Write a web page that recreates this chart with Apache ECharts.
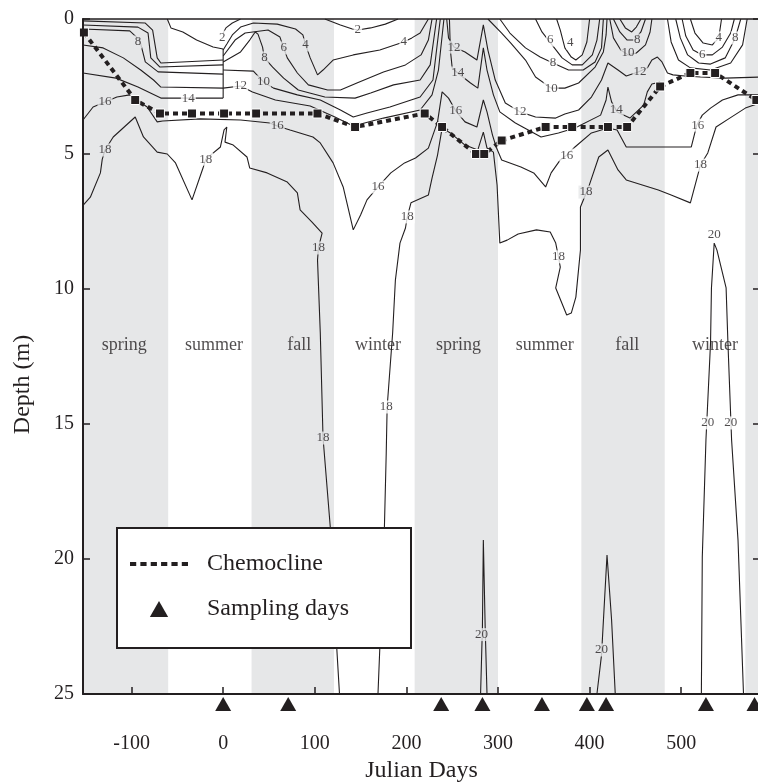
<!DOCTYPE html>
<html>
<head>
<meta charset="utf-8">
<title>Chemocline and contours</title>
<script src="https://cdn.jsdelivr.net/npm/echarts@6/dist/echarts.min.js"></script>
<style>
  html, body { margin: 0; padding: 0; background: #fff; }
  #chart { width: 758px; height: 783px; }
</style>
</head>
<body>
<div id="chart"></div>
<script>
// seasons (shaded = spring / fall)
var bandStart = [-153, 31, 209, 391, 570];
var bandEnd   = [-60, 121, 300, 482, 586];
var seasonNames = ['spring', 'summer', 'fall', 'winter', 'spring', 'summer', 'fall', 'winter'];
var seasonDays  = [-108, -10, 83, 169, 257, 351, 441, 537];
var seasonDepth = 12.1;

// chemocline
var chemoDays   = [-152, -96, -69, -34, 1, 36, 103, 144, 220, 239, 276, 285, 304, 352, 381, 420, 441, 477, 510, 537, 582];
var chemoDepths = [0.5, 3, 3.5, 3.5, 3.5, 3.5, 3.5, 4, 3.5, 4, 5, 5, 4.5, 4, 4, 4, 4, 2.5, 2, 2, 3];

// sampling days
var samplingDays = [0, 71, 238, 283, 348, 397, 418, 527, 580];

// axis ticks
var xTicks = [-100, 0, 100, 200, 300, 400, 500];

// contour lines [day, depth]
var tl1 = [[-153,0.07],[-85,0.15],[-77,0.41],[-72,1.44],[-68,1.63],[0,1.52]];
var tl2 = [[-153,0.22],[-93,0.3],[-82,0.52],[-79,1.44],[-69,1.78],[0,1.7]];
var tl3 = [[-153,0.37],[-102,0.44],[-91,0.78],[-85,1.59],[-71,1.96],[0,2.04]];
var tl4 = [[-153,0.96],[-131,1.07],[-109,1.44],[-90,1.89],[-76,2.26],[-68,2.52],[0,2.56]];
var tl5 = [[-153,2.0],[-117,2.19],[-93,2.52],[-68,2.93],[0,2.93]];
var c2left = [[-61,0],[-57,0.33],[-44,0.48],[-29,0.78],[-11,1.04],[0,1.11]];
var day0 = [[0,1.11],[0,2.93]];
var c2up = [[0,0.52],[3,0.33],[10,0.15],[19,0]];
var c2mid = [[111,0],[128,0.22],[141,0.37],[147,0.41],[161,0.33],[177,0.19],[191,0]];
var m4 = [[0,1.15],[10,0.59],[19,0.3],[33,0.15],[59,0.19],[79,0.37],[87,0.59],[90,0.96],[95,1.44],[103,2.07],[109,1.89],[120,1.52],[142,1.33],[171,1.15],[197,0.85],[206,0.7],[215,0.52],[224,0]];
var m6 = [[0,1.37],[13,0.78],[24,0.52],[49,0.41],[62,0.67],[66,1.07],[70,1.44],[81,2.0],[93,2.44],[114,2.63],[128,2.63],[146,2.37],[175,1.96],[199,1.7],[216,1.33],[224,0.78],[228,0]];
var m8 = [[0,1.59],[19,1.22],[29,0.78],[35,0.48],[38,0.56],[43,1.04],[45,1.44],[54,1.78],[66,2.19],[82,2.63],[111,2.89],[144,2.93],[161,2.74],[186,2.44],[215,2.26],[226,1.7],[233,0]];
var m10 = [[0,1.89],[33,1.93],[44,2.33],[55,2.56],[81,2.81],[106,3.0],[128,3.37],[142,3.63],[157,3.48],[182,3.26],[215,2.89],[229,2.26],[237,0]];
var m12 = [[0,2.56],[19,2.48],[32,2.7],[57,3.0],[95,3.22],[122,3.63],[142,3.96],[175,3.67],[215,3.37],[228,2.81],[235,1.89],[241,0]];
var s12 = [[244,0],[246,0.7],[252,1.04],[264,1.22],[277,1.52],[284,0.22],[289,1.15],[297,2.26],[308,3.11],[324,3.44],[341,3.63],[363,3.67],[373,3.52],[388,3.37],[402,2.89],[413,2.26],[420,1.63],[431,1.89],[440,2.11],[453,1.96],[463,1.81],[468,1.52],[474,1.41],[479,1.59],[485,2.0],[491,2.07],[504,2.11],[521,2.15],[548,2.19],[586,2.15]];
var s14 = [[247,0],[248,1.15],[250,1.81],[256,2.0],[270,2.37],[278,2.56],[284,1.07],[288,1.89],[295,2.81],[302,3.44],[319,3.85],[347,4.37],[366,4.22],[384,4.04],[412,3.56],[418,3.0],[420,2.52],[424,3.07],[430,3.44],[444,3.67],[459,3.19],[463,2.7],[468,2.41],[477,2.33]];
var r10 = [[289,0],[304,0.52],[314,0.89],[330,1.52],[341,2.15],[358,2.56],[373,2.56],[388,2.37],[406,1.78],[415,1.22],[418,0.59],[419,0]];
var r8 = [[302,0],[313,0.52],[330,1.07],[346,1.41],[360,1.63],[377,1.89],[393,1.89],[406,1.59],[413,1.07],[415,0]];
var r6 = [[341,0],[348,0.48],[359,0.96],[370,1.44],[381,1.7],[392,1.7],[403,1.33],[408,0.78],[411,0]];
var r4 = [[364,0],[368,0.41],[373,1.07],[380,1.41],[385,1.52],[392,1.33],[397,0.85],[400,0]];
var f10 = [[422,0],[426,0.7],[434,1.15],[442,1.33],[451,1.26],[461,0.96],[466,0.48],[468,0]];
var f8 = [[426,0],[433,0.48],[441,0.78],[449,0.78],[456,0.48],[461,0]];
var f6 = [[433,0],[439,0.33],[446,0.48],[451,0.3],[456,0]];
var w4 = [[510,0],[515,0.52],[524,0.89],[534,0.96],[541,0.7],[544,0]];
var w6 = [[501,0],[505,0.63],[513,1.15],[523,1.33],[534,1.33],[545,1.04],[554,0.52],[558,0]];
var w8 = [[494,0],[499,0.7],[507,1.33],[519,1.63],[532,1.67],[548,1.44],[559,0.7],[565,0]];
var w10 = [[485,0],[489,0.85],[497,1.52],[510,1.81],[532,1.89],[554,1.63],[567,0.96],[572,0]];
var c16 = [[-153,3.74],[-142,3.26],[-129,3.07],[-116,2.89],[-102,2.81],[-83,3.26],[-72,3.81],[-66,3.78],[-25,3.7],[19,3.74],[51,3.85],[59,3.96],[73,4.11],[98,4.37],[106,4.59],[120,5.33],[131,6.22],[142,7.81],[150,7.26],[157,6.7],[169,6.22],[183,5.7],[198,5.33],[210,5.15],[224,4.78],[234,3.81],[239,2.7],[246,2.93],[254,3.41],[264,3.81],[277,4.0],[284,3.0],[288,3.44],[294,4.3],[298,4.74],[304,5.22],[325,5.48],[339,5.7],[352,6.22],[358,5.7],[368,5.22],[375,5.04],[384,4.74],[402,4.22],[420,4.04],[430,4.11],[440,4.74],[511,4.74],[517,3.93],[523,3.56],[532,3.3],[545,3.0],[562,2.81],[586,2.81]];
var c18a = [[-153,6.9],[-145,6.6],[-134,5.7],[-132,5.2],[-129,4.85],[-120,4.37],[-96,3.63],[-87,4.37],[-72,4.93],[-61,5.0],[-52,5.33],[-34,6.7],[-22,5.52],[-19,5.19],[-3,4.74],[1,4.11],[4,4.0],[2,4.56],[11,4.67],[26,5.11],[29,5.52],[48,5.7],[70,6.04],[81,6.44],[84,7.07],[97,7.52],[108,7.93],[104,8.48],[103,8.93],[106,11.6],[109,15.5],[117,18.85],[124,23.3],[127,25]];
var c18b = [[169,25],[171,23.3],[176,18.85],[178,16.07],[179,14.37],[185,11.63],[188,9.67],[193,8.3],[199,7.74],[201,7.33],[205,6.81],[224,6.52],[228,5.89],[234,5.04],[239,4.04],[248,4.22],[264,4.67],[278,4.85],[284,4.19],[288,4.78],[295,4.93],[299,6.15],[302,8.3],[310,8.19],[322,7.96],[342,7.81],[357,7.89],[363,8.3],[366,8.81],[368,9.19],[363,9.96],[375,10.96],[380,10.89],[385,10.3],[390,8.56],[390,6.96],[399,6.22],[410,5.11],[420,4.85],[431,5.59],[440,5.96],[475,6.33],[489,6.52],[510,6.81],[521,5.41],[529,4.96],[538,4.0],[553,3.67],[570,3.3],[586,3.11]];
var c20a = [[281,25],[283,22.52],[284,19.3],[286,22.52],[288,25]];
var c20b = [[408,25],[413,23.56],[419,19.85],[424,22.26],[428,25]];
var c20c = [[522,25],[523,19.93],[527,15.59],[532,12],[533,9.96],[536,8.3],[539,8.56],[549,9.96],[551,12],[555,15.59],[562,19.3],[568,25]];

var contours = [tl1, tl2, tl3, tl4, tl5, c2left, day0, c2up, c2mid, m4, m6, m8, m10, m12,
  s12, s14, r10, r8, r6, r4, f10, f8, f6, w4, w6, w8, w10, c16, c18a, c18b, c20a, c20b, c20c];

// contour labels [day, depth, text]
var contourLabels = [
  [-1,0.67,'2'], [-93,0.85,'8'], [19,2.48,'12'], [-38,2.93,'14'], [-129,3.07,'16'],
  [-129,4.85,'18'], [-19,5.19,'18'], [59,3.96,'16'], [44,2.33,'10'], [45,1.44,'8'],
  [66,1.07,'6'], [90,0.96,'4'], [147,0.41,'2'], [197,0.85,'4'], [104,8.48,'18'],
  [109,15.52,'18'], [169,6.22,'16'], [201,7.33,'18'], [178,14.37,'18'], [252,1.04,'12'],
  [256,2.0,'14'], [254,3.41,'16'], [324,3.44,'12'], [375,5.04,'16'], [396,6.41,'18'],
  [366,8.81,'18'], [357,0.78,'6'], [379,0.89,'4'], [360,1.63,'8'], [358,2.56,'10'],
  [452,0.78,'8'], [442,1.26,'10'], [455,1.96,'12'], [429,3.37,'14'], [541,0.7,'4'],
  [523,1.33,'6'], [559,0.7,'8'], [518,3.93,'16'], [521,5.41,'18'], [536,8.0,'20'],
  [529,14.96,'20'], [554,14.96,'20'], [282,22.8,'20'], [413,23.37,'20']
];

var ink = '#231f20';
var shade = '#e6e7e8';
var serif = '"Liberation Serif", "Times New Roman", serif';

function shaded(day) {
  for (var i = 0; i < bandStart.length; i++) {
    if (day >= bandStart[i] && day <= bandEnd[i]) return true;
  }
  return false;
}

var series = [];

// season shading
series.push({
  type: 'line', data: [], silent: true, z: 1,
  markArea: {
    silent: true,
    itemStyle: { color: shade },
    data: bandStart.map(function (s, i) { return [{ xAxis: s }, { xAxis: bandEnd[i] }]; })
  }
});

contours.forEach(function (c) {
  series.push({
    type: 'line', data: c, symbol: 'none', silent: true, z: 2,
    lineStyle: { color: ink, width: 1.1 }
  });
});

series.push({
  type: 'scatter', silent: true, z: 3, symbolSize: 0,
  data: contourLabels.map(function (l) {
    return {
      value: [l[0], l[1]],
      label: { formatter: l[2], backgroundColor: shaded(l[0]) ? shade : '#fff' }
    };
  }),
  label: {
    show: true, position: 'inside', color: ink,
    fontFamily: serif, fontSize: 13, padding: [0, 1]
  }
});

series.push({
  type: 'scatter', silent: true, z: 3, symbolSize: 0,
  data: seasonNames.map(function (n, i) {
    return { value: [seasonDays[i], seasonDepth], label: { formatter: n } };
  }),
  label: { show: true, position: 'inside', color: ink, fontFamily: serif, fontSize: 18 }
});

series.push({
  name: 'Chemocline', type: 'line', z: 5,
  data: chemoDays.map(function (d, i) { return [d, chemoDepths[i]]; }),
  symbol: 'rect', symbolSize: 9,
  lineStyle: { color: ink, width: 4, type: [5, 4], cap: 'butt' },
  itemStyle: { color: ink, borderColor: '#fff', borderWidth: 1 }
});

series.push({
  name: 'Sampling days', type: 'scatter', z: 5, clip: false,
  data: samplingDays.map(function (d) { return [d, 25]; }),
  symbol: 'triangle', symbolSize: [16, 14], symbolOffset: [0, 10],
  itemStyle: { color: ink, opacity: 1 }
});

var option = {
  animation: false,
  backgroundColor: '#fff',
  grid: { left: 83, right: -2, top: 19, bottom: 89, outerBoundsMode: 'none', containLabel: false },
  legend: {
    orient: 'vertical', left: 117, top: 528,
    padding: [24, 62, 27, 13], itemGap: 21,
    itemWidth: 58, itemHeight: 16,
    borderColor: ink, borderWidth: 2, backgroundColor: '#fff',
    selectedMode: false, z: 10,
    textStyle: { color: ink, fontFamily: serif, fontSize: 24, padding: [0, 0, 0, 14] },
    data: [
      { name: 'Chemocline', icon: 'path://M0 0h6v4H0z M10 0h6v4h-6z M20 0h6v4h-6z M30 0h6v4h-6z M40 0h6v4h-6z M50 0h6v4h-6z', itemStyle: { borderWidth: 0 } },
      { name: 'Sampling days', icon: 'path://M0 14L8 0L16 14Z', itemStyle: { opacity: 1 } }
    ]
  },
  xAxis: [{
    type: 'value', position: 'bottom', min: -153, max: 586, z: 8,
    name: 'Julian Days', nameLocation: 'middle', nameGap: 65,
    nameTextStyle: { color: ink, fontFamily: serif, fontSize: 24 },
    axisLine: { onZero: false, lineStyle: { color: ink, width: 2 } },
    axisTick: { inside: true, length: 7, customValues: xTicks, lineStyle: { color: ink, width: 1.5 } },
    axisLabel: { customValues: xTicks, margin: 40, color: ink, fontFamily: serif, fontSize: 20 },
    splitLine: { show: false }
  }, {
    type: 'value', position: 'top', min: -153, max: 586, z: 8,
    axisLine: { onZero: false, lineStyle: { color: ink, width: 1.5 } },
    axisTick: { show: false }, axisLabel: { show: false }, splitLine: { show: false }
  }],
  yAxis: [{
    type: 'value', inverse: true, min: 0, max: 25, interval: 5, position: 'left', z: 8,
    name: 'Depth (m)', nameLocation: 'middle', nameGap: 48, nameRotate: 90,
    nameTextStyle: { color: ink, fontFamily: serif, fontSize: 24, padding: [0, 56, 0, 0] },
    axisLine: { onZero: false, lineStyle: { color: ink, width: 2 } },
    axisTick: { inside: true, length: 7, lineStyle: { color: ink, width: 1.5 } },
    axisLabel: { margin: 9, color: ink, fontFamily: serif, fontSize: 20 },
    splitLine: { show: false }
  }, {
    type: 'value', inverse: true, min: 0, max: 25, interval: 5, position: 'right', z: 8,
    axisLine: { show: true, onZero: false, lineStyle: { color: ink, width: 2 } },
    axisTick: { show: true, inside: true, length: 7, lineStyle: { color: ink, width: 1.5 } },
    axisLabel: { show: false }, splitLine: { show: false }
  }],
  series: series
};

var chart = echarts.init(document.getElementById('chart'));
chart.setOption(option);
</script>
</body>
</html>
